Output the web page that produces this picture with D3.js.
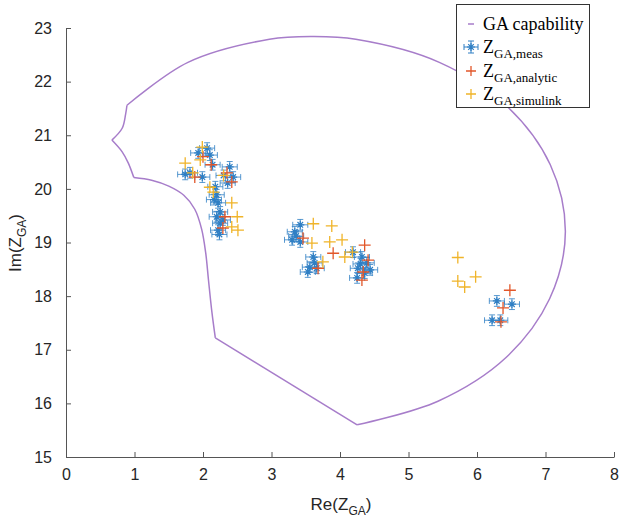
<!DOCTYPE html>
<html>
<head>
<meta charset="utf-8">
<script src="https://cdn.jsdelivr.net/npm/d3@7"></script>
<style>
  body { margin: 0; background: #fff; }
  text { font-family: "Liberation Sans", Arial, sans-serif; }
</style>
</head>
<body>
<svg id="chart"></svg>
<script>
// capability boundary, split where the outline has sharp corners
const capArcRe = [4.25, 5.43, 6.42, 7.06, 7.29, 7.07, 6.43, 5.45, 4.23, 3.60, 2.97, 1.78, 0.89];
const capArcIm = [15.60, 16.04, 16.85, 17.95, 19.20, 20.45, 21.55, 22.36, 22.79, 22.84, 22.79, 22.36, 21.56];
const capUpperRe = [0.89, 0.87, 0.82, 0.67];
const capUpperIm = [21.56, 21.39, 21.13, 20.91];
const capLowerRe = [0.67, 0.82, 0.91, 0.99];
const capLowerIm = [20.91, 20.69, 20.48, 20.21];
const capInnerRe = [0.99, 1.25, 1.50, 1.72, 1.88, 1.98, 2.04, 2.08, 2.13, 2.18];
const capInnerIm = [20.21, 20.16, 20.05, 19.88, 19.62, 19.25, 18.80, 18.30, 17.70, 17.22];
const capBottomRe = [2.18, 4.25];
const capBottomIm = [17.22, 15.60];

// measured impedance (with error bars)
const measRe = [2.06, 1.93, 2.10, 1.74, 1.81, 1.99, 2.39, 2.44, 2.36, 2.18, 2.20, 2.22, 2.25, 2.20, 2.25, 2.22, 2.29, 2.14, 2.30, 2.16, 2.24,
                3.42, 3.34, 3.30, 3.42, 3.36, 3.61, 3.56, 3.66, 3.53, 3.63,
                4.19, 4.32, 4.39, 4.26, 4.36, 4.25, 4.44, 4.30,
                6.29, 6.51, 6.22, 6.34];
const measIm = [20.76, 20.67, 20.63, 20.27, 20.30, 20.22, 20.41, 20.22, 20.11, 20.04, 19.89, 19.74, 19.57, 19.48, 19.36, 19.23, 19.42, 20.45, 20.25, 19.80, 19.15,
                19.33, 19.20, 19.05, 19.01, 19.12, 18.73, 18.54, 18.52, 18.45, 18.62,
                18.82, 18.73, 18.62, 18.52, 18.43, 18.34, 18.49, 18.60,
                17.91, 17.85, 17.55, 17.55];
const measReErr = 0.11;
const measImErr = 0.1;

const analyticRe = [2.00, 1.88, 2.42, 2.35, 2.32, 2.29, 2.12,
                    3.46, 3.68, 3.90,
                    4.36, 4.41, 4.34, 4.32,
                    6.48, 6.38, 6.35];
const analyticIm = [20.60, 20.22, 20.13, 20.30, 19.48, 19.27, 20.45,
                    19.08, 18.52, 18.80,
                    18.95, 18.67, 18.45, 18.30,
                    18.11, 17.78, 17.52];

const simRe = [1.74, 1.96, 1.99, 2.10, 2.15, 2.42, 2.50, 2.42, 2.51, 1.85, 2.30,
               3.61, 3.88, 3.85, 4.03, 4.07, 3.75, 3.59,
               4.18,
               5.72, 5.72, 5.82, 5.98];
const simIm = [20.48, 20.54, 20.78, 20.03, 19.94, 19.74, 19.48, 19.29, 19.23, 20.30, 20.25,
               19.35, 19.31, 19.01, 19.05, 18.73, 18.64, 18.99,
               18.82,
               18.72, 18.28, 18.17, 18.36];

const xTicks = [0, 1, 2, 3, 4, 5, 6, 7, 8];
const yTicks = [15, 16, 17, 18, 19, 20, 21, 22, 23];

const W = 620, H = 521;
const margin = { top: 28, right: 6, bottom: 64, left: 66 };
const width = 548, height = 429;

const colCap = "#a77dca", colMeas = "#2f7fc4", colAna = "#e2572a", colSim = "#f0b429";

const svg = d3.select("#chart").attr("width", W).attr("height", H);
const g = svg.append("g").attr("transform", `translate(${margin.left},${margin.top})`);

const x = d3.scaleLinear().domain([0, 8]).range([0, width]);
const y = d3.scaleLinear().domain([15, 23]).range([height, 0]);

// axes, MATLAB style: ticks inside, left + bottom only
const xAxis = g.append("g").attr("transform", `translate(0,${height})`)
  .call(d3.axisBottom(x).tickValues(xTicks).tickSizeInner(-5).tickSizeOuter(0).tickPadding(12));
const yAxis = g.append("g")
  .call(d3.axisLeft(y).tickValues(yTicks).tickSizeInner(-5).tickSizeOuter(0).tickPadding(14));
[xAxis, yAxis].forEach(a => {
  a.select(".domain").attr("stroke", "#555").attr("stroke-width", 1);
  a.selectAll(".tick line").attr("stroke", "#555");
  a.selectAll(".tick text").attr("fill", "#262626").style("font-size", "16px")
    .style("font-family", "'Liberation Sans', Arial, sans-serif");
});

// axis labels
const xl = svg.append("text").attr("x", 341).attr("y", 510).attr("text-anchor", "middle")
  .attr("fill", "#262626").style("font-size", "17px");
xl.append("tspan").text("Re(Z");
xl.append("tspan").attr("dy", 5).style("font-size", "12px").text("GA");
xl.append("tspan").attr("dy", -5).text(")");

const yl = svg.append("text").attr("transform", "translate(21,243) rotate(-90)").attr("text-anchor", "middle")
  .attr("fill", "#262626").style("font-size", "17px");
yl.append("tspan").text("Im(Z");
yl.append("tspan").attr("dy", 5).style("font-size", "12px").text("GA");
yl.append("tspan").attr("dy", -5).text(")");

// capability boundary
const curve = d3.line().x(d => x(d[0])).y(d => y(d[1])).curve(d3.curveCatmullRom);
const pieces = [
  [capArcRe, capArcIm], [capUpperRe, capUpperIm], [capLowerRe, capLowerIm],
  [capInnerRe, capInnerIm], [capBottomRe, capBottomIm]
];
pieces.forEach(([re, im]) => {
  g.append("path").datum(re.map((r, i) => [r, im[i]]))
    .attr("d", curve).attr("fill", "none").attr("stroke", colCap).attr("stroke-width", 1.5);
});

// measured: error bars + asterisk
const cap = 3;
function errBar(px, py, dx, dy) {
  return `M${px - dx},${py}H${px + dx}M${px - dx},${py - cap}V${py + cap}M${px + dx},${py - cap}V${py + cap}` +
         `M${px},${py - dy}V${py + dy}M${px - cap},${py - dy}H${px + cap}M${px - cap},${py + dy}H${px + cap}`;
}
function asterisk(px, py, s) {
  const d = s * 0.7;
  return `M${px - s},${py}H${px + s}M${px},${py - s}V${py + s}M${px - d},${py - d}L${px + d},${py + d}M${px - d},${py + d}L${px + d},${py - d}`;
}
function plus(px, py, s) {
  return `M${px - s},${py}H${px + s}M${px},${py - s}V${py + s}`;
}

const meas = measRe.map((r, i) => [r, measIm[i]]);
const dxErr = x(measReErr) - x(0), dyErr = y(15) - y(15 + measImErr);
g.append("g").selectAll("path").data(meas).join("path")
  .attr("d", d => errBar(x(d[0]), y(d[1]), dxErr, dyErr))
  .attr("fill", "none").attr("stroke", colMeas).attr("stroke-width", 1).attr("stroke-opacity", 0.8);
g.append("g").selectAll("path").data(meas).join("path")
  .attr("d", d => asterisk(x(d[0]), y(d[1]), 4))
  .attr("fill", "none").attr("stroke", colMeas).attr("stroke-width", 1.2);

g.append("g").selectAll("path").data(analyticRe.map((r, i) => [r, analyticIm[i]])).join("path")
  .attr("d", d => plus(x(d[0]), y(d[1]), 6))
  .attr("fill", "none").attr("stroke", colAna).attr("stroke-width", 1.3);

g.append("g").selectAll("path").data(simRe.map((r, i) => [r, simIm[i]])).join("path")
  .attr("d", d => plus(x(d[0]), y(d[1]), 6))
  .attr("fill", "none").attr("stroke", colSim).attr("stroke-width", 1.3);

// legend
const lg = svg.append("g");
lg.append("rect").attr("x", 456.5).attr("y", 4.5).attr("width", 133).attr("height", 103)
  .attr("fill", "#fff").attr("stroke", "#333").attr("stroke-width", 1);
const serif = "'Liberation Serif', 'Times New Roman', serif";
const items = [
  { y: 24, sub: null, label: "GA capability" },
  { y: 47, sub: "GA,meas" },
  { y: 71, sub: "GA,analytic" },
  { y: 94, sub: "GA,simulink" }
];
lg.append("path").attr("d", `M468,${items[0].y}H474`).attr("stroke", colCap).attr("stroke-width", 1.5);
lg.append("path").attr("d", errBar(471, items[1].y, 7, 6)).attr("fill", "none").attr("stroke", colMeas).attr("stroke-width", 1);
lg.append("path").attr("d", asterisk(471, items[1].y, 4)).attr("fill", "none").attr("stroke", colMeas).attr("stroke-width", 1.2);
lg.append("path").attr("d", plus(471, items[2].y, 5)).attr("fill", "none").attr("stroke", colAna).attr("stroke-width", 1.3);
lg.append("path").attr("d", plus(471, items[3].y, 5)).attr("fill", "none").attr("stroke", colSim).attr("stroke-width", 1.3);
items.forEach(it => {
  const t = lg.append("text").attr("x", 483).attr("y", it.y + 6).style("font-family", serif)
    .style("font-size", "18px").attr("fill", "#000");
  if (!it.sub) { t.text(it.label); return; }
  t.append("tspan").text("Z");
  t.append("tspan").attr("dy", 5).style("font-size", "13px").text(it.sub);
});
</script>
</body>
</html>
